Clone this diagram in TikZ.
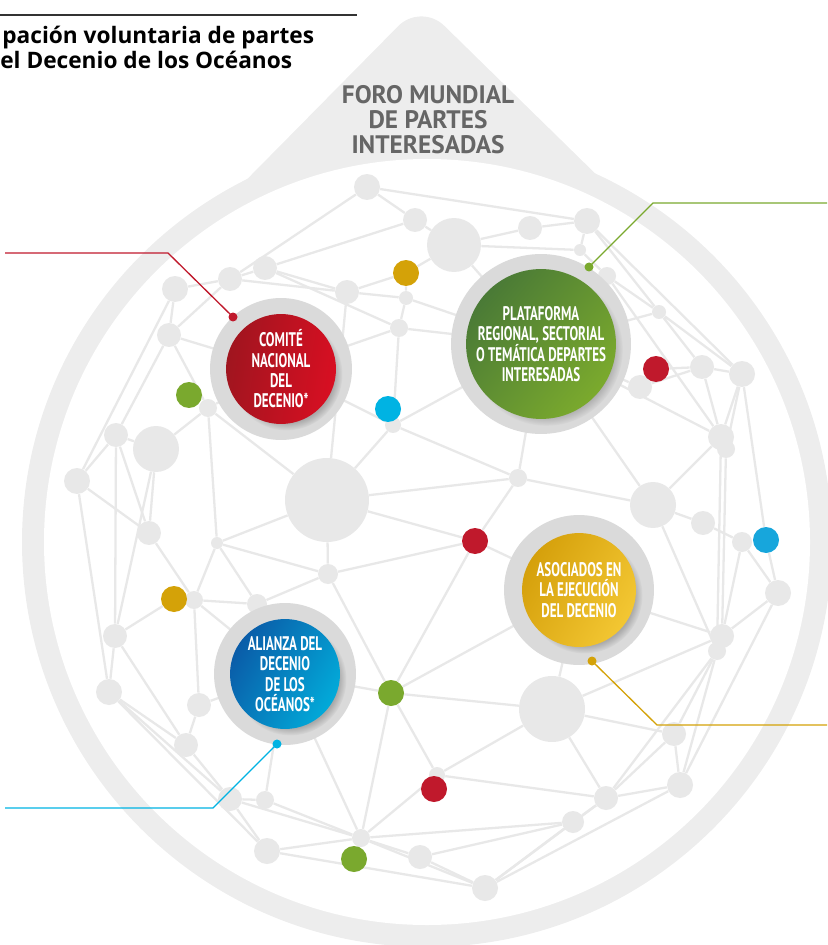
\documentclass[tikz,border=0pt]{standalone}
\usepackage{fontspec}
\setmainfont{PT Sans}
\newfontfamily\condfont[FakeStretch=0.66]{PT Sans}
\newfontfamily\titlefont{Open Sans}
\usetikzlibrary{shadows}
\pgfdeclarelayer{netlayer}
\pgfsetlayers{netlayer,main}

\definecolor{tear}{HTML}{EDEDED}
\definecolor{netgray}{HTML}{E8E8E8}
\definecolor{ringgray}{HTML}{DADADA}
\definecolor{forogray}{HTML}{666666}
\definecolor{decred}{HTML}{C0192C}
\definecolor{decgreen}{HTML}{7AA92E}
\definecolor{decgold}{HTML}{D4A208}
\definecolor{deccyan}{HTML}{00B3E3}
\definecolor{decsky}{HTML}{17A6DC}
\definecolor{comleft}{HTML}{A0151F}
\definecolor{comright}{HTML}{D80F22}
\definecolor{platleft}{HTML}{4A7A36}
\definecolor{platright}{HTML}{7BAA2D}
\definecolor{asocleft}{HTML}{D5A00B}
\definecolor{asocright}{HTML}{F3C733}
\definecolor{alileft}{HTML}{0A5CA8}
\definecolor{aliright}{HTML}{02AAD9}

\tikzset{
	link/.style={draw=netgray, line width=1.3pt},
	gn/.style={circle, fill=netgray, inner sep=0pt, minimum size=#1*0.04cm},
	colordot/.style={circle, fill=#1, inner sep=0pt, minimum size=0.52cm},
	enddot/.style={circle, fill=#1, inner sep=0pt, minimum size=0.18cm},
	leader/.style={draw=#1, line width=0.75pt},
	featring/.style={circle, fill=ringgray, inner sep=0pt, minimum size=#1*0.04cm},
	featdisc/.style={circle, inner sep=0pt, minimum size=#1*0.04cm, text=white, align=center,
		font=\condfont\bfseries\fontsize{11.2}{11.6}\selectfont,
		circular drop shadow={shadow xshift=3pt, shadow yshift=-3pt, shadow scale=1.02, opacity=0.55}},
	titletext/.style={inner sep=0pt, font=\titlefont\bfseries\fontsize{12.9}{14}\selectfont},
}

\begin{document}
\begin{tikzpicture}[x=0.02cm, y=-0.02cm]
	\useasboundingbox (0,0) rectangle (827,945);
	\clip (0,0) rectangle (827,945);

	\begin{pgfonlayer}{netlayer}
		\fill[tear] (427,542) circle (405);
		\fill[tear, rounded corners=0.65cm] (195,232) -- (421,3) -- (655,232) -- cycle;
		\fill[white] (427,542) circle (383);
	\end{pgfonlayer}

	\draw[line width=0.6pt, black!80] (0,15) -- (357,15);
	\node[titletext, anchor=base west] (tline1) at (2,44) {pación voluntaria de partes};
	\node[titletext, anchor=base west] (tline2) at (0,69) {el Decenio de los Océanos};

	\node[align=center, text=forogray, inner sep=0pt, font=\bfseries\fontsize{14.4}{14.2}\selectfont] (foro) at (428,120) {FORO MUNDIAL\\DE PARTES\\INTERESADAS};

	\coordinate (com) at (281,369);
	\coordinate (plat) at (541,344);
	\coordinate (asoc) at (579,590);
	\coordinate (ali) at (285,674);

	\node[gn=13] (a1) at (367,187) {};
	\node[gn=12] (a2) at (415,220) {};
	\node[gn=27] (a3) at (454,245) {};
	\node[gn=12] (a4) at (530,228) {};
	\node[gn=13] (a5) at (587,221) {};
	\node[gn=6] (a6) at (580,250) {};
	\node[gn=9] (a7) at (607,276) {};
	\node[gn=13] (b1) at (175,289) {};
	\node[gn=12] (b2) at (230,279) {};
	\node[gn=12] (b3) at (265,268) {};
	\node[gn=12] (b4) at (347,292) {};
	\node[gn=7] (b5) at (406,298) {};
	\node[gn=9] (b6) at (399,328) {};
	\node[gn=12] (b7) at (169,335) {};
	\node[gn=9] (c1) at (208,408) {};
	\node[gn=8] (c2) at (393,425) {};
	\node[gn=12] (c3) at (116,435) {};
	\node[gn=23] (c4) at (156,449) {};
	\node[gn=13] (c5) at (77,481) {};
	\node[gn=42] (c6) at (327,500) {};
	\node[gn=12] (c7) at (149,533) {};
	\node[gn=6] (c8) at (217,543) {};
	\node[gn=10] (c9) at (328,574) {};
	\node[gn=7] (d1) at (659,312) {};
	\node[gn=12] (d2) at (702,367) {};
	\node[gn=13] (d3) at (742,374) {};
	\node[gn=12] (d4) at (640,387) {};
	\node[gn=13] (d5) at (721,437) {};
	\node[gn=9] (d6) at (726,449) {};
	\node[gn=9] (d7) at (518,478) {};
	\node[gn=23] (d8) at (653,505) {};
	\node[gn=12] (d9) at (703,523) {};
	\node[gn=10] (d10) at (742,542) {};
	\node[gn=9] (e1) at (194,600) {};
	\node[gn=10] (e2) at (257,604) {};
	\node[gn=12] (e3) at (115,636) {};
	\node[gn=13] (e4) at (109,692) {};
	\node[gn=12] (e5) at (199,705) {};
	\node[gn=12] (e6) at (186,745) {};
	\node[gn=12] (e7) at (230,799) {};
	\node[gn=9] (e8) at (265,800) {};
	\node[gn=13] (e9) at (267,851) {};
	\node[gn=9] (e10) at (361,838) {};
	\node[gn=12] (e11) at (420,857) {};
	\node[gn=13] (e12) at (485,888) {};
	\node[gn=8] (e13) at (437,775) {};
	\node[gn=13] (f1) at (778,593) {};
	\node[gn=12] (f2) at (722,636) {};
	\node[gn=9] (f3) at (717,651) {};
	\node[gn=33] (f4) at (552,709) {};
	\node[gn=12] (f5) at (674,734) {};
	\node[gn=13] (f6) at (680,785) {};
	\node[gn=12] (f7) at (606,798) {};
	\node[gn=11] (f8) at (573,822) {};

	\node[colordot=decgold] (y1) at (406,273) {};
	\node[colordot=decgreen] (g1) at (189,395) {};
	\node[colordot=deccyan] (k1) at (388,409) {};
	\node[colordot=decred] (r1) at (656,369) {};
	\node[colordot=decred] (r2) at (475,541) {};
	\node[colordot=decsky] (k2) at (766,540) {};
	\node[colordot=decgold] (y2) at (174,599) {};
	\node[colordot=decgreen] (g2) at (391,693) {};
	\node[colordot=decred] (r3) at (434,789) {};
	\node[colordot=decgreen] (g3) at (354,859) {};

	\begin{pgfonlayer}{netlayer}
		\draw[link] (a1) -- (a2) -- (a3) -- (a4) -- (a5) -- (a6) -- (a7);
		\draw[link] (a1) -- (a5);
		\draw[link] (a1) -- (b2);
		\draw[link] (a2) -- (b3);
		\draw[link] (a3) -- (y1);
		\draw[link] (a3) -- (plat);
		\draw[link] (a3) -- (a6);
		\draw[link] (a5) -- (d1);
		\draw[link] (a5) -- (d3);
		\draw[link] (a7) -- (d1);
		\draw[link] (a7) -- (d5);
		\draw[link] (b1) -- (b2) -- (b3) -- (b4) -- (b5) -- (b6);
		\draw[link] (b3) -- (b6);
		\draw[link] (b2) -- (b4);
		\draw[link] (b4) -- (y1) -- (b5);
		\draw[link] (b5) -- (plat);
		\draw[link] (b6) -- (plat);
		\draw[link] (b6) -- (c2);
		\draw[link] (b6) -- (com);
		\draw[link] (b1) -- (b7) -- (b2);
		\draw[link] (b7) -- (c1);
		\draw[link] (b7) -- (c3);
		\draw[link] (b7) -- (com);
		\draw[link] (b1) -- (c5);
		\draw[link] (b4) -- (c6);
		\draw[link] (c1) -- (c4);
		\draw[link] (c1) -- (c6);
		\draw[link] (c1) -- (c8);
		\draw[link] (c1) -- (com);
		\draw[link] (c2) -- (c6);
		\draw[link] (c2) -- (d7);
		\draw[link] (c2) -- (plat);
		\draw[link] (c2) -- (com);
		\draw[link] (c3) -- (c4);
		\draw[link] (c3) -- (c5);
		\draw[link] (c3) -- (c7);
		\draw[link] (c3) -- (e3);
		\draw[link] (c4) -- (c7);
		\draw[link] (c4) -- (e3);
		\draw[link] (c5) -- (c7);
		\draw[link] (c5) -- (e4);
		\draw[link] (c6) -- (c8);
		\draw[link] (c6) -- (c9);
		\draw[link] (c6) -- (r2);
		\draw[link] (c6) -- (d7);
		\draw[link] (c7) -- (e1);
		\draw[link] (c8) -- (e1);
		\draw[link] (c8) -- (e2);
		\draw[link] (c8) -- (c9);
		\draw[link] (c9) -- (e2);
		\draw[link] (c9) -- (g2);
		\draw[link] (c9) -- (r2);
		\draw[link] (d1) -- (d2) -- (d3) -- (d1);
		\draw[link] (d1) -- (plat);
		\draw[link] (d2) -- (d4);
		\draw[link] (d2) -- (r1);
		\draw[link] (d2) -- (d5);
		\draw[link] (d3) -- (d5);
		\draw[link] (d3) -- (d6);
		\draw[link] (d3) -- (k2);
		\draw[link] (d4) -- (plat);
		\draw[link] (d5) -- (plat);
		\draw[link] (d5) -- (d8);
		\draw[link] (d6) -- (f2);
		\draw[link] (d5) -- (f3);
		\draw[link] (d7) -- (d8);
		\draw[link] (d7) -- (r2);
		\draw[link] (d7) -- (plat);
		\draw[link] (d8) -- (plat);
		\draw[link] (d8) -- (d9) -- (d10);
		\draw[link] (d8) -- (f3);
		\draw[link] (d10) -- (f1);
		\draw[link] (d10) -- (f2);
		\draw[link] (k2) -- (f1);
		\draw[link] (y2) -- (e1) -- (e2);
		\draw[link] (e1) -- (e5);
		\draw[link] (e1) -- (ali);
		\draw[link] (y2) -- (e3);
		\draw[link] (e2) -- (ali);
		\draw[link] (e3) -- (e4) -- (e6);
		\draw[link] (e3) -- (e6);
		\draw[link] (e4) -- (e7);
		\draw[link] (e4) -- (e9);
		\draw[link] (e5) -- (e6) -- (e7);
		\draw[link] (e5) -- (ali);
		\draw[link] (e7) -- (e8);
		\draw[link] (e7) -- (e9);
		\draw[link] (e7) -- (e10);
		\draw[link] (e8) -- (e10);
		\draw[link] (e8) -- (ali);
		\draw[link] (e9) -- (e10);
		\draw[link] (e9) -- (e12);
		\draw[link] (e10) -- (g2);
		\draw[link] (e10) -- (ali);
		\draw[link] (e10) -- (e11);
		\draw[link] (e10) -- (e12);
		\draw[link] (e10) -- (e13);
		\draw[link] (e10) -- (f8);
		\draw[link] (g2) -- (ali);
		\draw[link] (g2) -- (r2);
		\draw[link] (g2) -- (asoc);
		\draw[link] (g2) -- (f4);
		\draw[link] (g2) -- (e13);
		\draw[link] (r2) -- (asoc);
		\draw[link] (e13) -- (f4);
		\draw[link] (e13) -- (f7);
		\draw[link] (e13) -- (r3);
		\draw[link] (f4) -- (asoc);
		\draw[link] (f4) -- (f7);
		\draw[link] (f4) -- (f5);
		\draw[link] (f4) -- (f2);
		\draw[link] (asoc) -- (f2);
		\draw[link] (f2) -- (f1);
		\draw[link] (f2) -- (f3);
		\draw[link] (f1) -- (f6);
		\draw[link] (f3) -- (f6);
		\draw[link] (f3) -- (f7);
		\draw[link] (f3) -- (f5);
		\draw[link] (f5) -- (f6);
		\draw[link] (f5) -- (f7);
		\draw[link] (f7) -- (f6);
		\draw[link] (f7) -- (f8);
		\draw[link] (f7) -- (e12);
		\draw[link] (f8) -- (e11);
		\draw[link] (f8) -- (e12);
		\draw[link] (f6) -- (e12);
		\draw[link] (e11) -- (e12);
		\draw[link] (g3) -- (e10);
	\end{pgfonlayer}

	\node[featring=71] (comring) at (com) {};
	\node[featdisc=55, left color=comleft, right color=comright, shading angle=80] (comdisc) at (com) {COMITÉ\\NACIONAL\\DEL\\DECENIO*};

	\node[featring=90] (platring) at (plat) {};
	\node[featdisc=68, top color=platleft, bottom color=platright, shading angle=50] (platdisc) at (plat) {PLATAFORMA\\REGIONAL, SECTORIAL\\O TEMÁTICA DEPARTES\\INTERESADAS};

	\node[featring=75] (asocring) at (asoc) {};
	\node[featdisc=57, top color=asocleft, bottom color=asocright, shading angle=60] (asocdisc) at (asoc) {ASOCIADOS EN\\LA EJECUCIÓN\\DEL DECENIO};

	\node[featring=71] (aliring) at (ali) {};
	\node[featdisc=55, top color=alileft, bottom color=aliright, shading angle=60] (alidisc) at (ali) {ALIANZA DEL\\DECENIO\\DE LOS\\OCÉANOS*};

	\node[enddot=decred] (comdot) at (233,317) {};
	\coordinate (combend) at (168,253);
	\coordinate (comend) at (5,253);
	\draw[leader=decred] (comdot.center) -- (combend) -- (comend);

	\node[enddot=decgreen] (platdot) at (589,267) {};
	\coordinate (platbend) at (653,203);
	\coordinate (platend) at (827,203);
	\draw[leader=decgreen] (platdot.center) -- (platbend) -- (platend);

	\node[enddot=decgold] (asocdot) at (592,661) {};
	\coordinate (asocbend) at (657,725);
	\coordinate (asocend) at (827,725);
	\draw[leader=decgold] (asocdot.center) -- (asocbend) -- (asocend);

	\node[enddot=deccyan] (alidot) at (277,744) {};
	\coordinate (alibend) at (213,808);
	\coordinate (aliend) at (5,808);
	\draw[leader=deccyan] (alidot.center) -- (alibend) -- (aliend);
\end{tikzpicture}
\end{document}
